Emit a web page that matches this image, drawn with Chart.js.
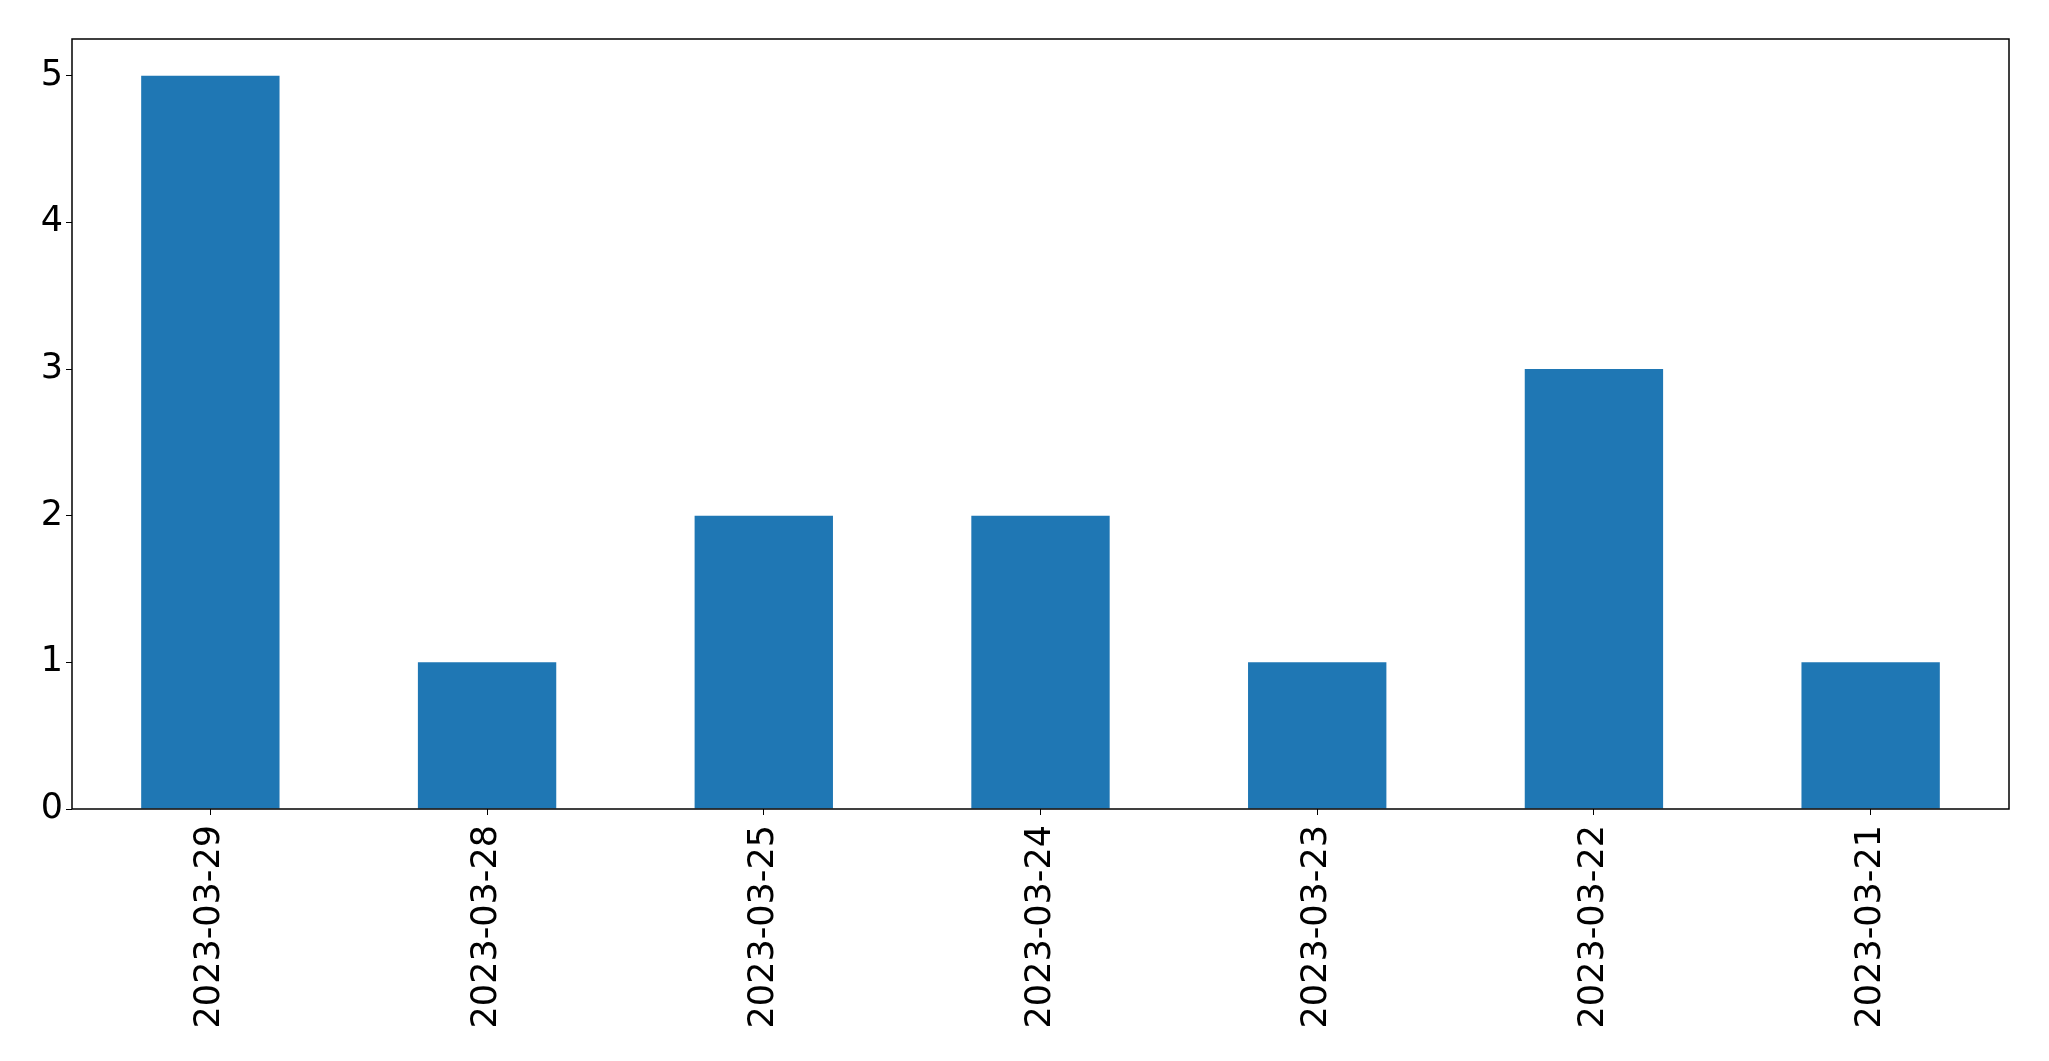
<!DOCTYPE html>
<html>
<head>
<meta charset="utf-8">
<script src="https://cdn.jsdelivr.net/npm/chart.js@4"></script>
<style>
    html, body { margin: 0; padding: 0; background: #fff; }
    #wrap { width: 2049px; height: 1061px; }
</style>
</head>
<body>
<div id="wrap"><canvas id="chart" width="2049" height="1061"></canvas></div>
<script>
const dates  = ['2023-03-29', '2023-03-28', '2023-03-25', '2023-03-24', '2023-03-23', '2023-03-22', '2023-03-21']
const counts = [5, 1, 2, 2, 1, 3, 1]
const yTicks = [0, 1, 2, 3, 4, 5]
const yMax   = 5.25

// frame round the plot area, like matplotlib spines
const frame = {
    id: 'frame',
    afterDraw(chart) {
        const { ctx, chartArea: a } = chart
        ctx.save()
        ctx.strokeStyle = '#000'
        ctx.lineWidth = 1.5
        ctx.strokeRect(a.left, a.top, a.right - a.left, a.bottom - a.top)
        ctx.restore()
    }
}

const font = { family: 'DejaVu Sans', size: 35 }

new Chart(document.getElementById('chart'), {
    type: 'bar',
    data: {
        labels: dates,
        datasets: [{
            data: counts,
            backgroundColor: '#1f77b4',
            categoryPercentage: 1,
            barPercentage: 0.5
        }]
    },
    options: {
        responsive: false,
        animation: false,
        layout: { padding: { top: 39, right: 40, left: 0, bottom: 0 } },
        plugins: { legend: { display: false }, tooltip: { enabled: false } },
        scales: {
            x: {
                grid: { drawOnChartArea: false, offset: false, tickLength: 6, color: '#000', tickColor: '#000' },
                border: { display: false },
                ticks: { color: '#000', font, minRotation: 90, maxRotation: 90, padding: 10, autoSkip: false },
                afterFit(scale) { scale.height = 252 }
            },
            y: {
                min: 0,
                max: yMax,
                grid: { drawOnChartArea: false, tickLength: 6, color: '#000', tickColor: '#000' },
                border: { display: false },
                ticks: { color: '#000', font, padding: 3 },
                afterBuildTicks(scale) { scale.ticks = yTicks.map(v => ({ value: v })) },
                afterFit(scale) { scale.width = 72 }
            }
        }
    },
    plugins: [frame]
})
</script>
</body>
</html>
